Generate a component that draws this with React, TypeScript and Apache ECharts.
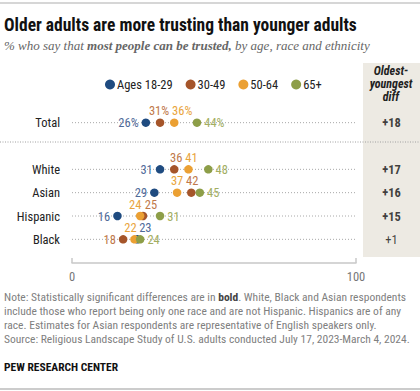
import React, { useEffect, useRef } from "react";
import * as echarts from "echarts";

// ---- data ----
const rows = ["Total", "", "White", "Asian", "Hispanic", "Black"];
const ageGroups = ["Ages 18-29", "30-49", "50-64", "65+"];
const age18to29 = [26, null, 31, 29, 16, 23];
const age30to49 = [31, null, 36, 42, 25, 18];
const age50to64 = [36, null, 41, 37, 24, 22];
const age65plus = [44, null, 48, 45, 31, 24];
const diffs = ["+18", "", "+17", "+16", "+15", "+1"];
const diffSignificant = [true, false, true, true, true, false];
const xTicks = [0, 100];

// ---- styles ----
const dotColors = ["#1F4B80", "#A5552A", "#EBA033", "#8D9E48"];
const labelColors = ["#4F6A99", "#C0784A", "#E9A43C", "#A2AE62"];
const FONT = "'Liberation Sans Narrow', 'Roboto Condensed', 'DejaVu Sans Condensed', 'Liberation Sans', sans-serif";
const SERIF = "'Liberation Serif', 'DejaVu Serif', serif";

// label placement per series per row: [position, dx]
const placement: [string, number][][] = [
  [["left", 0], ["left", 0], ["left", 0], ["left", 0], ["left", 0], ["top", 8]],
  [["top", -1], ["top", 0], ["top", 2], ["top", 1], ["top", 8], ["left", 0]],
  [["top", 8], ["top", 0], ["top", 3], ["top", 0], ["top", -5], ["top", -4]],
  [["right", 0], ["right", 0], ["right", 0], ["right", 0], ["right", 0], ["right", 0]],
];

export default function App() {
  const ref = useRef<HTMLDivElement>(null);
  useEffect(() => {
    document.body.style.margin = "0";
    const chart = echarts.init(ref.current!, null, { renderer: "svg" });
    const allSeries = [age18to29, age30to49, age50to64, age65plus];

    const rowLines = rows
      .map((r, i) => ({ r, i }))
      .filter((o) => o.r !== "")
      .map((o) => ({
        type: "line",
        silent: true,
        symbol: "none",
        xAxisIndex: 0,
        yAxisIndex: 0,
        lineStyle: { color: "#A8A8A8", width: 1, type: [1, 2] },
        data: [[xTicks[0], o.r], [xTicks[1], o.r]],
        z: 1,
      }));

    const dotSeries = allSeries.map((vals, s) => ({
      type: "scatter",
      name: ageGroups[s],
      xAxisIndex: 0,
      yAxisIndex: 0,
      symbol: "circle",
      symbolSize: 8.5,
      itemStyle: { color: dotColors[s], opacity: 1 },
      z: 3 + s,
      data: vals
        .map((v, i) => ({ v, i }))
        .filter((o) => o.v !== null)
        .map((o) => {
          const [pos, dx] = placement[s][o.i];
          return {
            value: [o.v, rows[o.i]],
            label: {
              show: true,
              position: pos,
              distance: pos === "top" ? 1 : 3,
              offset: [dx, 0],
              formatter: o.i === 0 ? `${o.v}%` : `${o.v}`,
              color: labelColors[s],
              fontSize: 12.5,
              fontFamily: FONT,
            },
          };
        }),
    }));

    const diffSeries = {
      type: "scatter",
      xAxisIndex: 1,
      yAxisIndex: 1,
      symbolSize: 1,
      itemStyle: { color: "rgba(0,0,0,0)" },
      silent: true,
      z: 10,
      data: diffs
        .map((d, i) => ({ d, i }))
        .filter((o) => o.d !== "")
        .map((o) => ({
          value: [0.5, rows[o.i]],
          label: {
            show: true,
            position: "inside",
            formatter: o.d,
            color: "#111",
            fontSize: 12.5,
            fontWeight: diffSignificant[o.i] ? "bold" : "normal",
            fontFamily: FONT,
          },
        })),
    };

    chart.setOption({
      animation: false,
      backgroundColor: "#fff",
      legend: {
        data: ageGroups,
        left: 100,
        top: 73,
        icon: "circle",
        itemWidth: 10,
        itemHeight: 10,
        itemGap: 13,
        selectedMode: false,
        textStyle: { fontSize: 12.5, color: "#222", fontFamily: FONT, padding: [0, 0, 0, -3] },
      },
      grid: [
        { left: 72, width: 284, top: 111, height: 140 },
        { left: 363, width: 57, top: 111, height: 140 },
      ],
      xAxis: [
        {
          gridIndex: 0,
          type: "value",
          min: xTicks[0],
          max: xTicks[1],
          interval: 100,
          offset: 12,
          axisLine: { show: true, lineStyle: { color: "#C8C8C8", width: 1.5 } },
          axisTick: { show: true, inside: true, length: 5, lineStyle: { color: "#C8C8C8", width: 1.5 } },
          axisLabel: { color: "#777", fontSize: 12.5, margin: 7, fontFamily: FONT },
          splitLine: { show: false },
        },
        { gridIndex: 1, type: "value", min: 0, max: 1, show: false },
      ],
      yAxis: [
        {
          gridIndex: 0,
          type: "category",
          data: rows,
          inverse: true,
          axisLine: { show: false },
          axisTick: { show: false },
          axisLabel: { color: "#222", fontSize: 12.5, margin: 12, fontFamily: FONT },
        },
        { gridIndex: 1, type: "category", data: rows, inverse: true, show: false },
      ],
      graphic: [
        { type: "line", shape: { x1: 0, y1: 3, x2: 420, y2: 3 }, style: { stroke: "#C9C9C9", lineWidth: 1.5 } },
        {
          type: "text",
          x: 4,
          y: 25,
          style: {
            text: "Older adults are more trusting than younger adults",
            font: `bold 17.5px ${FONT}`,
            fill: "#111",
            verticalAlign: "middle",
          },
        },
        {
          type: "text",
          x: 4,
          y: 45,
          style: {
            text: "{i|% who say that }{b|most people can be trusted,}{i| by age, race and ethnicity}",
            verticalAlign: "middle",
            rich: {
              i: { font: `italic 13px ${SERIF}`, fill: "#666" },
              b: { font: `bold italic 13px ${SERIF}`, fill: "#666" },
            },
          },
        },
        { type: "rect", shape: { x: 363, y: 63, width: 57, height: 194 }, style: { fill: "#EDEAE3" }, z: -10 },
        {
          type: "text",
          x: 391,
          y: 84,
          style: {
            text: "Oldest-\nyoungest\ndiff",
            font: `italic bold 12px ${FONT}`,
            fill: "#222",
            align: "center",
            verticalAlign: "middle",
            lineHeight: 13,
          },
        },
        {
          type: "line",
          shape: { x1: 0, y1: 142, x2: 420, y2: 142 },
          style: { stroke: "#A0A0A0", lineWidth: 1, lineDash: [1, 1.5] },
        },
        {
          type: "text",
          x: 4,
          y: 290,
          style: {
            text:
              "{n|Note: Statistically significant differences are in }{nb|bold}{n|. White, Black and Asian respondents}\n" +
              "{n|include those who report being only one race and are not Hispanic. Hispanics are of any}\n" +
              "{n|race. Estimates for Asian respondents are representative of English speakers only.}\n" +
              "{n|Source: Religious Landscape Study of U.S. adults conducted July 17, 2023-March 4, 2024.}",
            rich: {
              n: { font: `11.5px ${FONT}`, fill: "#808080", lineHeight: 14 },
              nb: { font: `bold 11.5px ${FONT}`, fill: "#444", lineHeight: 14 },
            },
          },
        },
        {
          type: "text",
          x: 4,
          y: 367,
          style: { text: "PEW RESEARCH CENTER", font: `bold 11.5px ${FONT}`, fill: "#111", verticalAlign: "middle" },
        },
        { type: "line", shape: { x1: 0, y1: 389, x2: 420, y2: 389 }, style: { stroke: "#9A9A9A", lineWidth: 1.2 } },
      ],
      series: [...rowLines, ...dotSeries, diffSeries],
    });
    return () => chart.dispose();
  }, []);
  return <div ref={ref} style={{ width: 420, height: 391 }} />;
}
